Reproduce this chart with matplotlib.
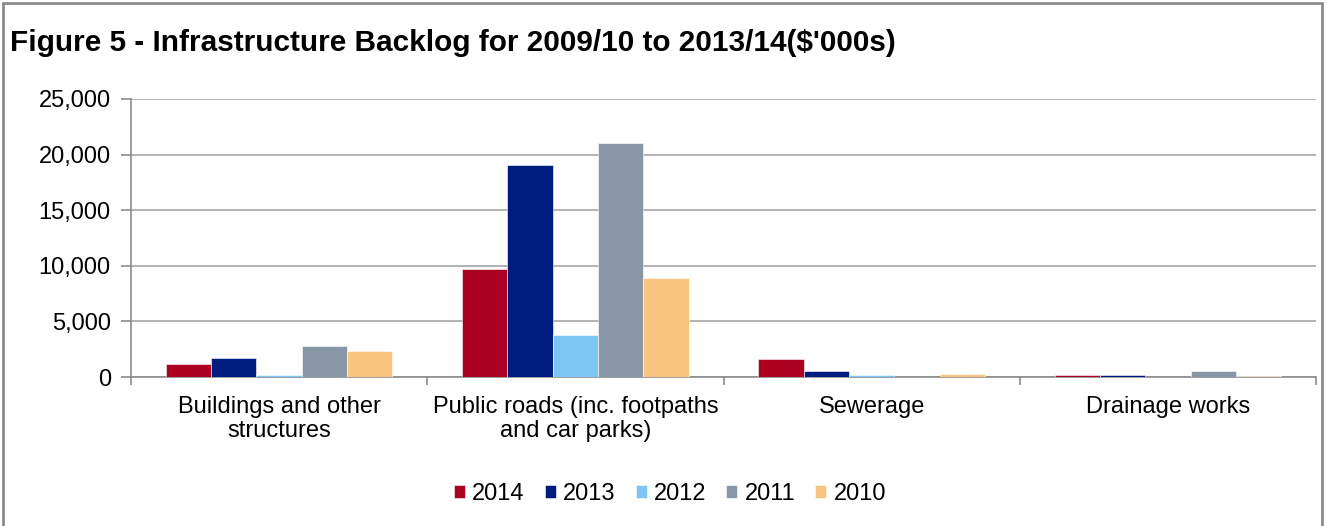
import numpy as np
import matplotlib
matplotlib.use("Agg")
import matplotlib.pyplot as plt
from matplotlib.patches import Rectangle

plt.rcParams['font.family'] = ['Liberation Sans', 'DejaVu Sans']

categories = ["Buildings and other\nstructures", "Public roads (inc. footpaths\nand car parks)",
              "Sewerage", "Drainage works"]
years = ["2014", "2013", "2012", "2011", "2010"]
values = {
    "2014": [1200, 9700, 1600, 170],
    "2013": [1750, 19050, 560, 160],
    "2012": [150, 3800, 170, 0],
    "2011": [2800, 21000, 0, 520],
    "2010": [2330, 8900, 270, 110],
}
colors = ["#AB001F", "#001C7E", "#7DC6F3", "#8996A5", "#F9C480"]

fig = plt.figure(figsize=(13.27, 5.26), dpi=100)
ax = fig.add_axes([131 / 1327, 1 - 377 / 526, (1316 - 131) / 1327, (377 - 99) / 526])

# outer frame of the chart area
fig.patches.append(Rectangle((3 / 1327, -0.05), 1319 / 1327, 1 - 3 / 526 + 0.05,
                             transform=fig.transFigure, fill=False,
                             edgecolor="#8C8C8C", linewidth=2))

x = np.arange(len(categories))
w = 0.153
for i, yr in enumerate(years):
    ax.bar(x + (i - 2) * w, values[yr], width=w, color=colors[i],
           edgecolor="white", linewidth=0.4, label=yr, zorder=3)

ax.set_xlim(-0.5, 3.5)
ax.set_ylim(0, 25000)
ax.set_yticks(np.arange(0, 25001, 5000))
ax.yaxis.set_major_formatter(matplotlib.ticker.FuncFormatter(lambda v, p: f"{int(v):,}"))
ax.grid(axis="y", color="#A6A6A6", linewidth=1.2, zorder=0)

ax.set_xticks(x)
ax.set_xticklabels(categories, fontsize=17, linespacing=1.12)
ax.set_xticks(np.arange(-0.5, 3.6, 1), minor=True)
ax.tick_params(axis="x", which="major", length=0, pad=14)
ax.tick_params(axis="x", which="minor", length=6, width=1.2, color="#8C8C8C")
ax.tick_params(axis="y", length=7.5, width=1.2, color="#8C8C8C", labelsize=17, pad=7)

for s in ["top", "right"]:
    ax.spines[s].set_visible(False)
for s in ["left", "bottom"]:
    ax.spines[s].set_color("#8C8C8C")
    ax.spines[s].set_linewidth(1.2)

fig.text(10 / 1327, 1 - 43 / 526, "Figure 5 - Infrastructure Backlog for 2009/10 to 2013/14($'000s)",
         fontsize=21.4, fontweight="bold", va="center", ha="left")

fig.legend(loc="center", bbox_to_anchor=(670 / 1327, 1 - 494 / 526), ncol=5, frameon=False,
           fontsize=17, handlelength=0.47, handleheight=0.5, handletextpad=0.3, columnspacing=0.85)

fig.savefig("out.png", dpi=100)
